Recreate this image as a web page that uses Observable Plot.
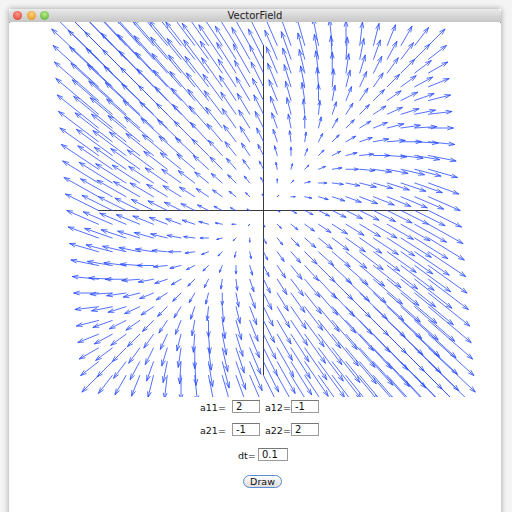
<!DOCTYPE html>
<html>
<head>
<meta charset="utf-8">
<script src="https://cdn.jsdelivr.net/npm/d3@7"></script>
<script src="https://cdn.jsdelivr.net/npm/@observablehq/plot@0.6"></script>
<style>
  html, body { margin: 0; padding: 0; width: 512px; height: 512px; overflow: hidden; background: #f4f4f4; font-family: "DejaVu Sans", "Liberation Sans", sans-serif; }
  #win { position: absolute; left: 9px; top: 9px; width: 492px; height: 520px; background: #fff; box-shadow: 0 0 6px rgba(0,0,0,0.35); }
  #titlebar { position: absolute; left: 0; top: 0; width: 492px; height: 13px; background: linear-gradient(#e9e9e9, #c6c6c6); border-bottom: 1px solid #8e8e8e; border-radius: 4px 4px 0 0; }
  #title { position: absolute; left: 0; width: 100%; top: 0; text-align: center; font-size: 10px; line-height: 13px; color: #222; }
  .light { position: absolute; top: 2px; width: 9px; height: 9px; border-radius: 50%; }
  #chart { position: absolute; left: 1px; top: 13px; }
  .lbl { position: absolute; font-size: 9.5px; color: #111; line-height: 14px; }
  .box { position: absolute; height: 13px; border: 1px solid #9a9a9a; border-top-color: #777; background: #fff; font-size: 10px; line-height: 12px; padding-left: 3px; box-sizing: border-box; color: #111; }
  #draw { position: absolute; left: 234px; top: 466px; width: 39px; height: 13px; border: 1.5px solid #5b8bd0; border-radius: 7px; background: linear-gradient(#ffffff, #dcdcdc); font-size: 9.5px; line-height: 11px; text-align: center; box-sizing: border-box; color: #111; }
</style>
</head>
<body>
<div id="win">
  <div id="titlebar">
    <div class="light" style="left:4px;background:radial-gradient(circle at 50% 35%, #ff9a8a, #d6342a);"></div>
    <div class="light" style="left:18px;background:radial-gradient(circle at 50% 35%, #ffd27a, #e08a14);"></div>
    <div class="light" style="left:31px;background:radial-gradient(circle at 50% 35%, #b8ec8a, #4fa82a);"></div>
    <div id="title">VectorField</div>
  </div>
  <div id="chart"></div>
  <div class="lbl" style="left:191px;top:392px;">a11=</div>
  <div class="box" style="left:223px;top:391px;width:28px;">2</div>
  <div class="lbl" style="left:256px;top:392px;">a12=</div>
  <div class="box" style="left:282px;top:391px;width:28px;">-1</div>
  <div class="lbl" style="left:191px;top:415px;">a21=</div>
  <div class="box" style="left:223px;top:414px;width:28px;">-1</div>
  <div class="lbl" style="left:256px;top:415px;">a22=</div>
  <div class="box" style="left:282px;top:414px;width:28px;">2</div>
  <div class="lbl" style="left:229px;top:440px;">dt=</div>
  <div class="box" style="left:249px;top:439px;width:30px;">0.1</div>
  <div id="draw">Draw</div>
</div>
<script>
// Matrix coefficients and time step as shown in the input fields
const a11 = 2, a12 = -1, a21 = -1, a22 = 2;
const dt = 0.1;
// Grid sample positions (world units, axis spans -1..1)
const gridX = [-12,-11,-10,-9,-8,-7,-6,-5,-4,-3,-2,-1,0,1,2,3,4,5,6,7,8,9,10,11,12].map(k => k / 12);
const gridY = [-12,-11,-10,-9,-8,-7,-6,-5,-4,-3,-2,-1,0,1,2,3,4,5,6,7,8,9,10,11,12].map(k => k / 12);

const vectors = [];
for (const x of gridX) for (const y of gridY) {
  if (x === 0 && y === 0) continue;
  vectors.push({x, y, x2: x + dt * (a11 * x + a12 * y), y2: y + dt * (a21 * x + a22 * y)});
}

const plot = Plot.plot({
  width: 490,
  height: 375,
  margin: 0,
  style: {background: "white", overflow: "hidden"},
  x: {domain: [-1, 1], range: [88, 418], axis: null},
  y: {domain: [-1, 1], range: [353, 23], axis: null},
  marks: [
    Plot.ruleY([0], {x1: -1, x2: 1, stroke: "#3a3a3a", strokeWidth: 1}),
    Plot.ruleX([0], {y1: -1, y2: 1, stroke: "#3a3a3a", strokeWidth: 1}),
    Plot.arrow(vectors, {x1: "x", y1: "y", x2: "x2", y2: "y2", stroke: "#2a4cff", strokeWidth: 0.8, headLength: 11, headAngle: 36, clip: true})
  ]
});
document.getElementById("chart").appendChild(plot);
</script>
</body>
</html>
